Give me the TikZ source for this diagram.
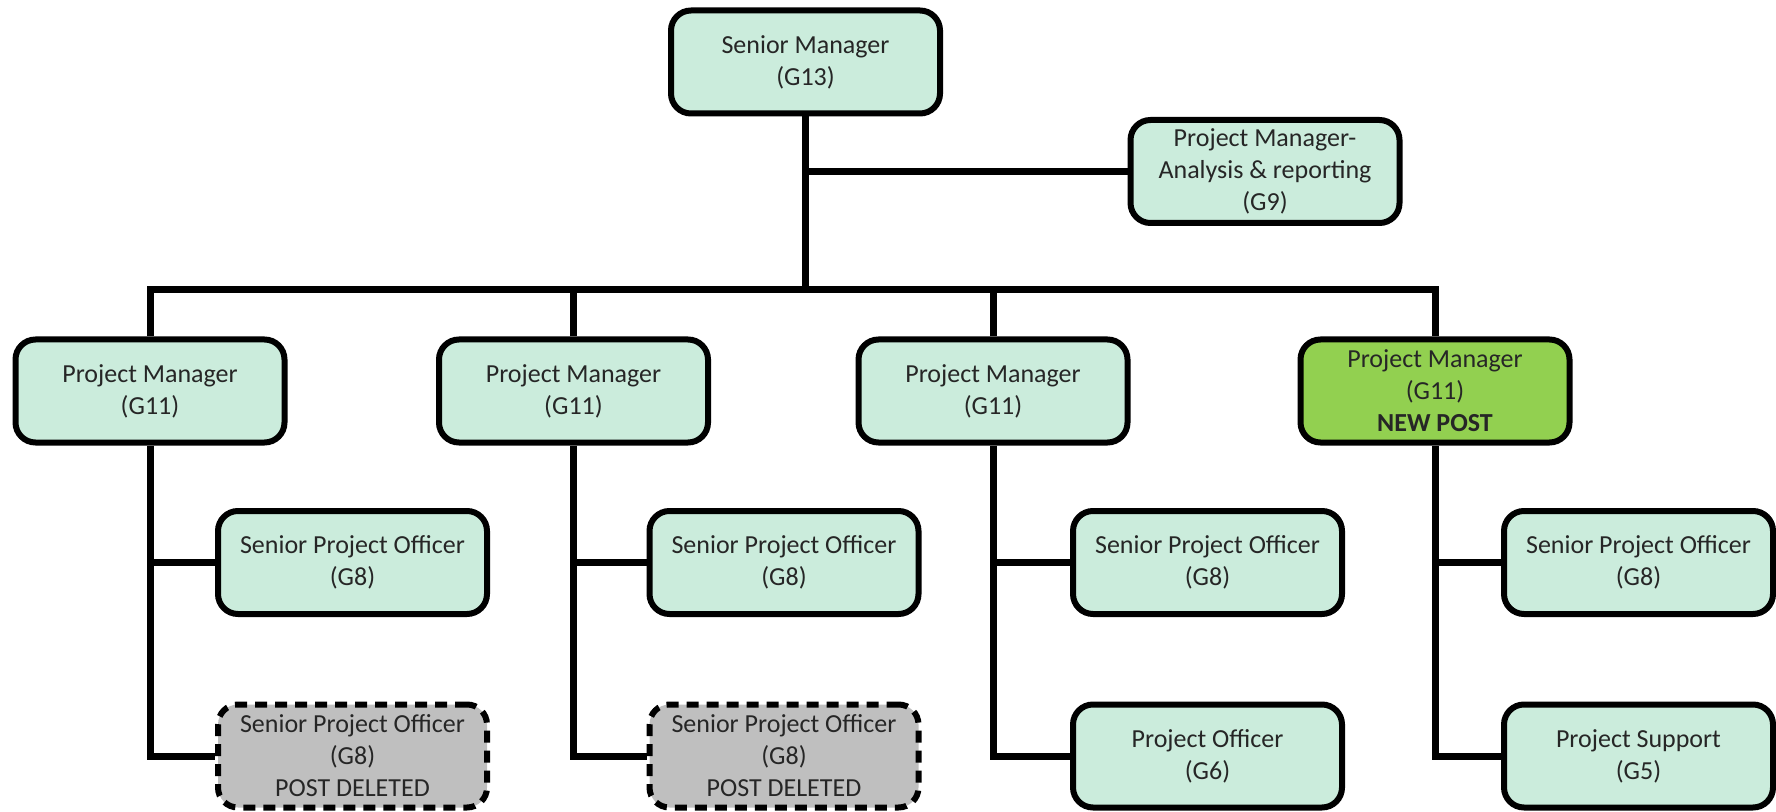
\documentclass[tikz,border=0pt]{standalone}
\usepackage{fontspec}
\setmainfont{Carlito}
\begin{document}
\begin{tikzpicture}[x=0.5pt,y=-0.5pt,
  box/.style={draw=black, line width=3pt, rounded corners=10pt, fill=mint,
    minimum width=134.5pt, minimum height=51.5pt, align=center, inner sep=0pt,
    font=\fontsize{13pt}{16pt}\selectfont, text=black!85},
  newbox/.style={box, fill=newgreen},
  delbox/.style={box, fill=delgray, dash pattern=on 6pt off 4pt},
  conn/.style={line width=3.5pt, draw=black}
]
\definecolor{mint}{HTML}{CBECDC}
\definecolor{newgreen}{HTML}{92D050}
\definecolor{delgray}{HTML}{BFBFBF}
\useasboundingbox (0,0) rectangle (1776,812);

\coordinate (rowy) at (0,290);

% connectors first (boxes drawn afterwards on top)
\path (805.5,62) coordinate (smc) (1265,171.5) coordinate (pmac);

\node[box] (sm) at (805.5,62) {Senior Manager\\(G13)};
\node[box] (pma) at (1265,171.5) {Project Manager-\\Analysis \& reporting\\(G9)};

\node[box] (pm1) at (150,391) {Project Manager\\(G11)};
\node[box] (pm2) at (573.5,391) {Project Manager\\(G11)};
\node[box] (pm3) at (993,391) {Project Manager\\(G11)};
\node[newbox] (pm4) at (1435,391) {Project Manager\\(G11)\\\textbf{NEW POST}};

\node[box] (spo1) at (352.5,562.5) {Senior Project Officer\\(G8)};
\node[box] (spo2) at (784,562.5) {Senior Project Officer\\(G8)};
\node[box] (spo3) at (1207.5,562.5) {Senior Project Officer\\(G8)};
\node[box] (spo4) at (1638.5,562.5) {Senior Project Officer\\(G8)};

\node[delbox] (del1) at (352.5,756) {Senior Project Officer\\(G8)\\POST DELETED};
\node[delbox] (del2) at (784,756) {Senior Project Officer\\(G8)\\POST DELETED};
\node[box] (po) at (1207.5,756) {Project Officer\\(G6)};
\node[box] (ps) at (1638.5,756) {Project Support\\(G5)};

% trunk and row
\draw[conn] (sm.south) -- (sm.south |- rowy);
\draw[conn] (pma.west) -- (sm.south |- pma.west);
\draw[conn] (pm1.north) -- (pm1.north |- rowy) -- (pm4.north |- rowy) -- (pm4.north);
\draw[conn] (pm2.north) -- (pm2.north |- rowy);
\draw[conn] (pm3.north) -- (pm3.north |- rowy);

% children
\draw[conn] (pm1.south) |- (del1.west);
\draw[conn] (pm1.south |- spo1.west) -- (spo1.west);
\draw[conn] (pm2.south) |- (del2.west);
\draw[conn] (pm2.south |- spo2.west) -- (spo2.west);
\draw[conn] (pm3.south) |- (po.west);
\draw[conn] (pm3.south |- spo3.west) -- (spo3.west);
\draw[conn] (pm4.south) |- (ps.west);
\draw[conn] (pm4.south |- spo4.west) -- (spo4.west);
\end{tikzpicture}
\end{document}
